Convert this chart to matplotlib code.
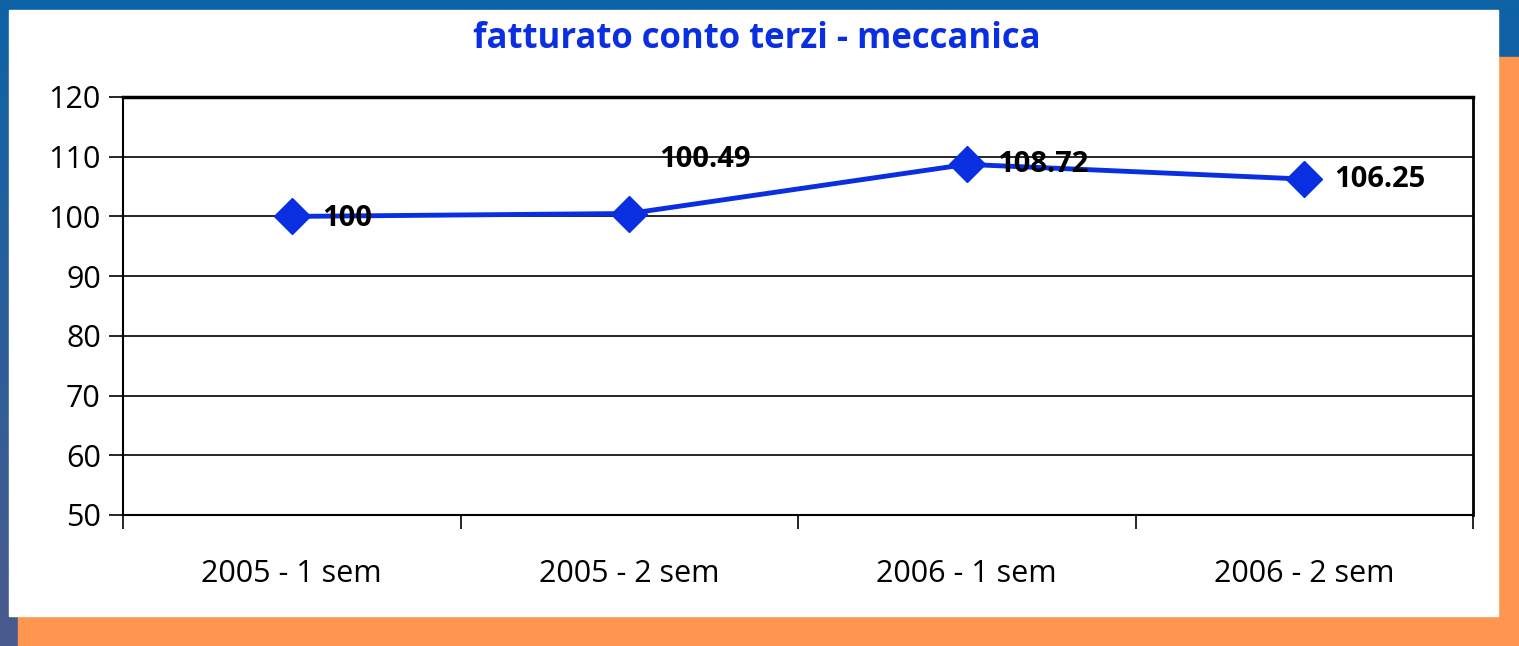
import numpy as np
import matplotlib
matplotlib.use('Agg')
import matplotlib.pyplot as plt
from matplotlib.patches import Rectangle

# dati
semestri = ['2005 - 1 sem', '2005 - 2 sem', '2006 - 1 sem', '2006 - 2 sem']
fatturato = [100, 100.49, 108.72, 106.25]
etichette = ['100', '100.49', '108.72', '106.25']

W, H = 1519, 646
fig = plt.figure(figsize=(W / 100, H / 100), dpi=100)
plt.rcParams['font.family'] = ['Open Sans', 'DejaVu Sans']

# sfondo: blu con sfumatura, pannello bianco, bordi arancio
bg = fig.add_axes([0, 0, 1, 1])
grad = np.linspace(0, 1, 100).reshape(-1, 1)
cmap = matplotlib.colors.LinearSegmentedColormap.from_list('bg', ['#4a5a8e', '#0d63a6'])
bg.imshow(grad, cmap=cmap, aspect='auto', extent=[0, W, 0, H], origin='lower')
bg.add_patch(Rectangle((1498, 0), W - 1498, H - 57, color='#ff9650'))
bg.add_patch(Rectangle((18, 0), 1498 - 18, H - 616, color='#ff9650'))
bg.add_patch(Rectangle((9, H - 616), 1498 - 9, 616 - 10, color='white'))
bg.set_xlim(0, W); bg.set_ylim(0, H)
bg.axis('off')

# area grafico
ax = fig.add_axes([123 / W, 1 - 515 / H, (1473 - 123) / W, (515 - 97) / H])
ax.set_facecolor('white')
x = np.arange(len(semestri))
ax.set_xlim(-0.5, len(semestri) - 0.5)
ax.set_ylim(50, 120)
ax.set_yticks(range(50, 121, 10))
for y in range(60, 120, 10):
    ax.axhline(y, color='black', lw=1.2, zorder=1)

ax.plot(x, fatturato, color='#0a2fe0', lw=3.5, marker='D', markersize=18,
        markerfacecolor='#0a2fe0', markeredgecolor='#0a2fe0', zorder=3)

# spostamento verticale delle etichette (in unità dell'asse y)
spost_y = [-0.3, 9.0, -0.1, -0.1]
for xi, val, txt, dy in zip(x, fatturato, etichette, spost_y):
    ax.annotate(txt, (xi, val + dy), xytext=(30, 0), textcoords='offset pixels',
                ha='left', va='center', fontsize=21, fontweight='bold', color='black',
                zorder=4)

ax.set_xticks(np.arange(-0.5, len(semestri), 1.0))
ax.set_xticklabels([])
ax.set_xticks(x, minor=True)
ax.set_xticklabels(semestri, minor=True)
ax.tick_params(axis='x', which='major', direction='out', length=10, width=1.2)
ax.tick_params(axis='x', which='minor', length=0, pad=32, labelsize=22)
ax.tick_params(axis='y', direction='out', length=10, width=1.2, labelsize=22, pad=6)

ax.spines['top'].set_linewidth(2.5)
ax.spines['right'].set_linewidth(2)
ax.spines['left'].set_linewidth(1.5)
ax.spines['bottom'].set_linewidth(1.5)
for s in ax.spines.values():
    s.set_color('black')

fig.text(757 / W, 1 - 39 / H, 'fatturato conto terzi - meccanica', ha='center', va='center',
         fontsize=25, fontweight='bold', color='#0a2fe0')

fig.savefig('out.png', dpi=100)
